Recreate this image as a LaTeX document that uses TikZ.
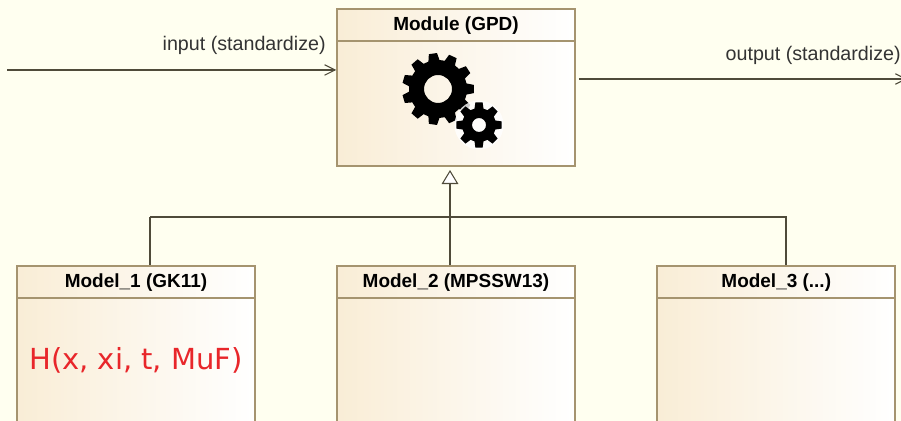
\documentclass[tikz,border=0pt]{standalone}
\usepackage{fontspec}
\setmainfont{Liberation Sans}
\newfontfamily\redfont{DejaVu Sans}
\usetikzlibrary{arrows.meta, shadows}
\definecolor{paper}{HTML}{FFFFF0}
\definecolor{boxedge}{HTML}{A5946F}
\definecolor{boxtint}{HTML}{F9EDD6}
\definecolor{wire}{HTML}{4F4B3A}
\definecolor{redtext}{HTML}{E8262A}
\tikzset{
	classbox/.style={draw=boxedge, line width=0.9pt, left color=boxtint, right color=white, minimum width=4.76cm, anchor=north, drop shadow={shadow xshift=0.5pt, shadow yshift=-0.7pt, opacity=0.3}},
	classtitle/.style={draw=boxedge, line width=0.9pt, minimum width=4.76cm, minimum height=0.64cm, anchor=north, font=\bfseries\fontsize{10.8}{12}\selectfont, text=black},
	wireline/.style={draw=wire, line width=0.6pt},
	portlabel/.style={font=\fontsize{11.2}{13}\selectfont, text=black!80, inner sep=0pt}
}
% big and small gear: centre, teeth, outer radius, root radius, hole radius
\newcommand{\gearshape}[5]{
	\begin{scope}[shift={#1}]
		\pgfmathsetmacro{\tstep}{360/#2}
		\fill[black, even odd rule] (-0.34*\tstep:#4)
		\foreach \k in {1,...,#2} {
			-- ({(\k-1)*\tstep-0.2*\tstep}:#3) -- ({(\k-1)*\tstep+0.2*\tstep}:#3)
			-- ({(\k-1)*\tstep+0.34*\tstep}:#4) -- ({(\k-1)*\tstep+0.66*\tstep}:#4)
		} -- cycle (0,0) circle (#5);
	\end{scope}
}

\begin{document}
\begin{tikzpicture}[x=0.02cm, y=-0.02cm]
	\useasboundingbox (0,0) rectangle (901,421);
	\clip (0,0) rectangle (901,421);
	\fill[paper] (0,0) rectangle (901,421);

	\node[classbox, minimum height=3.14cm] (module) at (456,8.5) {};
	\node[classtitle] (moduletitle) at (module.north) {Module (GPD)};

	\node[classbox, minimum height=4cm] (modelA) at (136,265.5) {};
	\node[classtitle] (modelAtitle) at (modelA.north) {Model\_1 (GK11)};
	\node[classbox, minimum height=4cm] (modelB) at (456,265.5) {};
	\node[classtitle] (modelBtitle) at (modelB.north) {Model\_2 (MPSSW13)};
	\node[classbox, minimum height=4cm] (modelC) at (776.25,265.5) {};
	\node[classtitle] (modelCtitle) at (modelC.north) {Model\_3 (...)};

	\node[font=\redfont\fontsize{16.5}{20}\selectfont, text=redtext] (formula) at (136,360) {H(x, xi, t, MuF)};

	\gearshape{(438,89)}{11}{36}{29}{14}
	\fill[white, opacity=0.8] (479,125) circle (24.5);
	\gearshape{(479,125)}{8}{23}{17}{7}

	% free ends
	\coordinate (instart) at (7,70);
	\coordinate (outend) at (907,79);
	\coordinate (busA) at (150,217);
	\coordinate (busB) at (450,217);
	\coordinate (busC) at (786,217);
	\coordinate (tip) at (450,170);

	\draw[wireline, -{Straight Barb[length=6pt, width=6pt]}] (instart) -- (instart -| module.west);
	\draw[wireline, -{Straight Barb[length=6pt, width=6pt]}] (outend -| module.east) ++(3,0) -- (outend);
	\node[portlabel, anchor=base east] (inlabel) at (326,51) {input (standardize)};
	\node[portlabel, anchor=base east] (outlabel) at (901,60.5) {output (standardize)};

	\draw[wireline] (busA) -- (busC) -- (busC |- modelC.north);
	\draw[wireline] (busA) -- (busA |- modelA.north);
	\draw[wireline, -{Triangle[open, fill=white, length=8pt, width=9.5pt]}] (busB |- modelB.north) -- (tip);
\end{tikzpicture}
\end{document}
